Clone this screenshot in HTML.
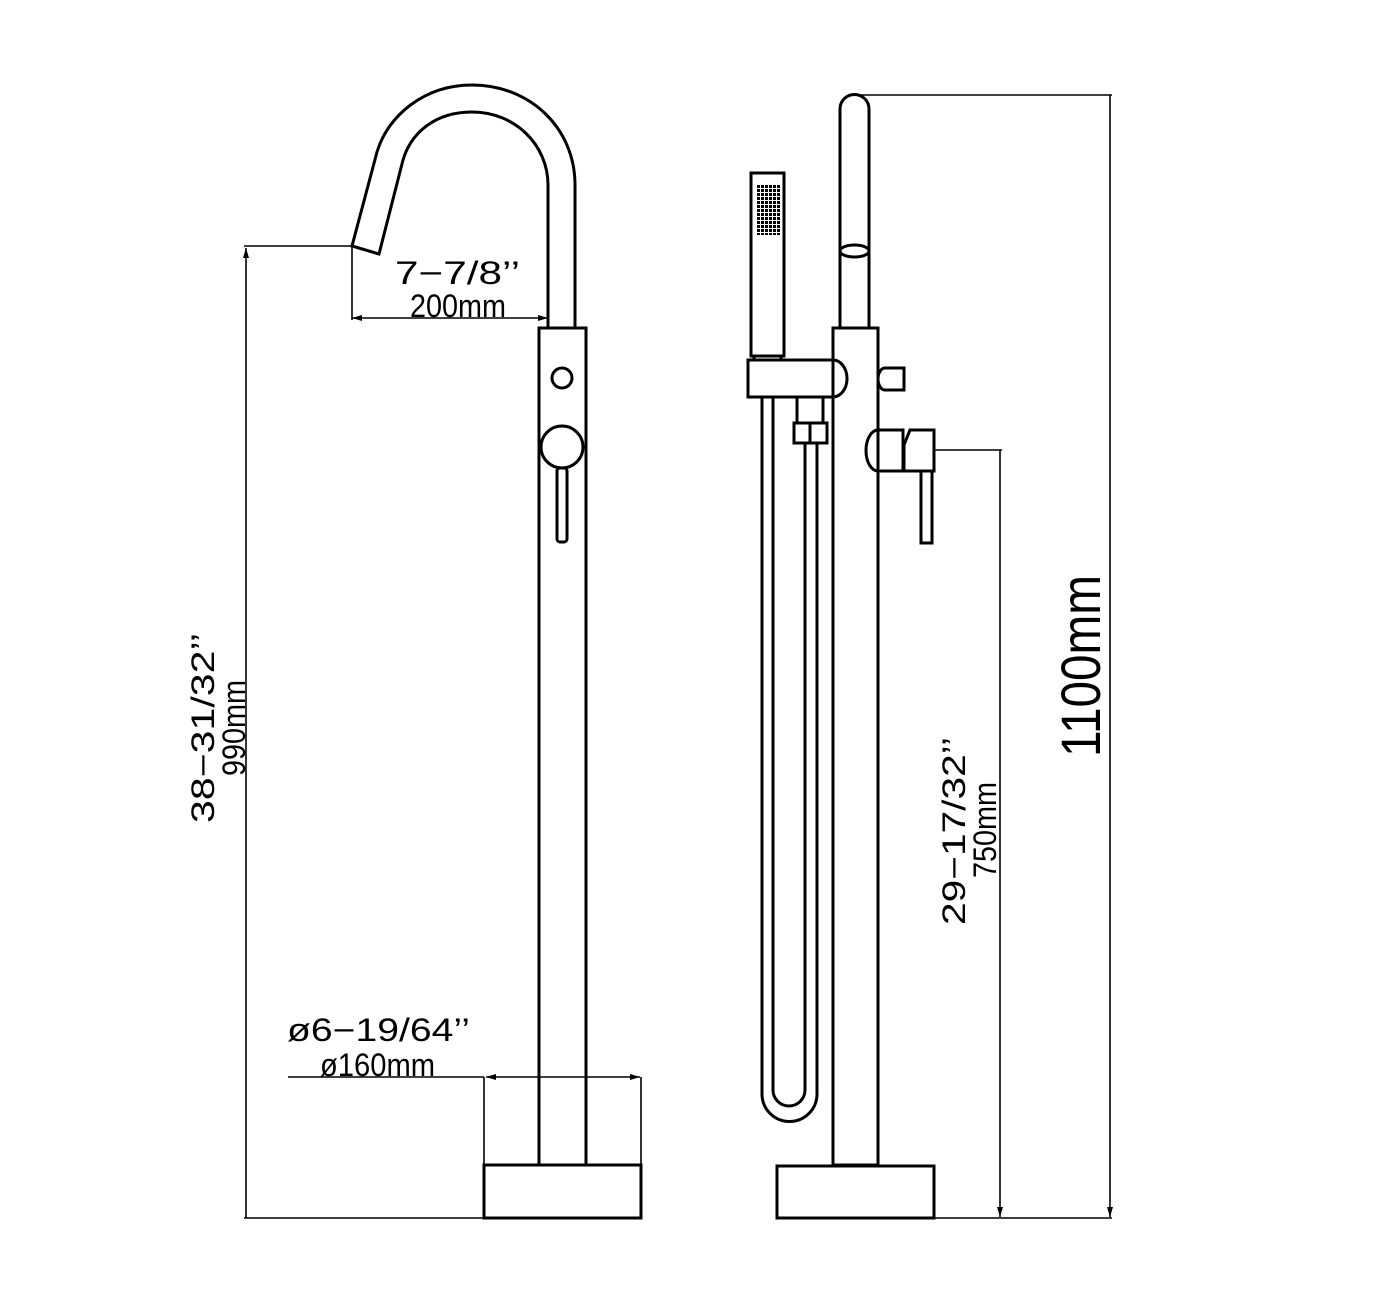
<!DOCTYPE html>
<html><head><meta charset="utf-8"><style>html,body{margin:0;padding:0;background:#fff}svg{display:block}</style></head>
<body>
<svg width="1374" height="1310" viewBox="0 0 1374 1310" xmlns="http://www.w3.org/2000/svg">
<defs>
<marker id="a" viewBox="0 0 10 6" refX="10" refY="3" markerWidth="16" markerHeight="6" markerUnits="userSpaceOnUse" orient="auto-start-reverse"><path d="M0,0L10,3L0,6z" fill="#000"/></marker>
<pattern id="g" x="757" y="185" width="4" height="4" patternUnits="userSpaceOnUse"><rect width="3" height="3" fill="#000"/></pattern>
</defs>
<g fill="none" stroke="#000" stroke-width="3">
<path d="M575,328 L575,185 C575,128 530,85 472,85 C425,85 388,115 377,152 L352,246 L379,254 L403,160 C412,130 438,112 472,112 C515,112 548,145 548,185 L548,328"/>
<rect x="539" y="328" width="47" height="837"/>
<circle cx="562" cy="378" r="10"/>
<circle cx="562" cy="447" r="21"/>
<rect x="557" y="468" width="10" height="74" rx="3"/>
<rect x="484" y="1165" width="157" height="53"/>
<path d="M840,328 L840,109 A14.5,14.5 0 0 1 869,109 L869,328"/>
<ellipse cx="854.5" cy="251" rx="14.5" ry="6"/>
<rect x="833" y="328" width="45" height="837"/>
<rect x="751" y="173" width="33" height="183"/>
<path d="M754,356 L754,360 M781,356 L781,360"/>
<path d="M833,360 L748,360 L748,397 L833,397 A14,18.5 0 0 0 833,360"/>
<path d="M885,368 L904,368 L904,390 L885,390 A7,11 0 0 1 885,368z"/>
<path d="M797,397 L797,423 M823,397 L823,423"/>
<rect x="794" y="423" width="33" height="20"/>
<path d="M810,423 L810,443"/>
<path d="M762,397 L762,1094 A27.5,27.5 0 0 0 817,1094 L817,443"/>
<path d="M773,397 L773,1090 A16,16 0 0 0 805,1090 L805,443"/>
<path d="M878,430 L903,430 L903,471 L878,471 A12,20.5 0 0 1 878,430z"/>
<path d="M910,430 L934,430 L934,471 L904,471 L904,445 z"/>
<rect x="921" y="471" width="11" height="72"/>
<rect x="777" y="1166" width="157" height="52"/>
</g>
<rect x="757" y="185" width="24" height="50" fill="url(#g)"/>
<g fill="none" stroke="#000" stroke-width="1.6">
<path d="M244,246 L352,246 M352,246 L352,320 M641,1077 L641,1218 M484,1077 L484,1165"/>
<path d="M244,1218 L484,1218"/>
<line x1="246" y1="1218" x2="246" y2="248" marker-end="url(#a)"/>
<line x1="352" y1="318" x2="548" y2="318" marker-start="url(#a)" marker-end="url(#a)"/>
<line x1="288" y1="1077" x2="484" y2="1077"/>
<line x1="486" y1="1077" x2="640" y2="1077" marker-start="url(#a)" marker-end="url(#a)"/>
<path d="M855,95 L1112,95 M934,450 L1002,450 M934,1218 L1112,1218"/>
<line x1="1000" y1="450" x2="1000" y2="1217" marker-end="url(#a)"/>
<line x1="1110" y1="95" x2="1110" y2="1217" marker-end="url(#a)"/>
</g>
<g font-family="'Liberation Sans', 'DejaVu Sans', sans-serif" fill="#000" font-size="32" font-weight="300">
<text x="395" y="284" textLength="125" lengthAdjust="spacingAndGlyphs">7−7/8’’</text>
<text x="410" y="317" textLength="96" lengthAdjust="spacingAndGlyphs">200mm</text>
<text x="287" y="1041" textLength="183" lengthAdjust="spacingAndGlyphs">ø6−19/64’’</text>
<text x="320" y="1076" textLength="115" lengthAdjust="spacingAndGlyphs">ø160mm</text>
<text transform="translate(214,823) rotate(-90)" textLength="190" lengthAdjust="spacingAndGlyphs">38−31/32’’</text>
<text transform="translate(245,776) rotate(-90)" textLength="96" lengthAdjust="spacingAndGlyphs">990mm</text>
<text transform="translate(965,925) rotate(-90)" textLength="188" lengthAdjust="spacingAndGlyphs">29−17/32’’</text>
<text transform="translate(996,878) rotate(-90)" textLength="96" lengthAdjust="spacingAndGlyphs">750mm</text>
<text transform="translate(1100,757) rotate(-90)" font-size="56" textLength="182" lengthAdjust="spacingAndGlyphs">1100mm</text>
</g>
</svg>
</body></html>
